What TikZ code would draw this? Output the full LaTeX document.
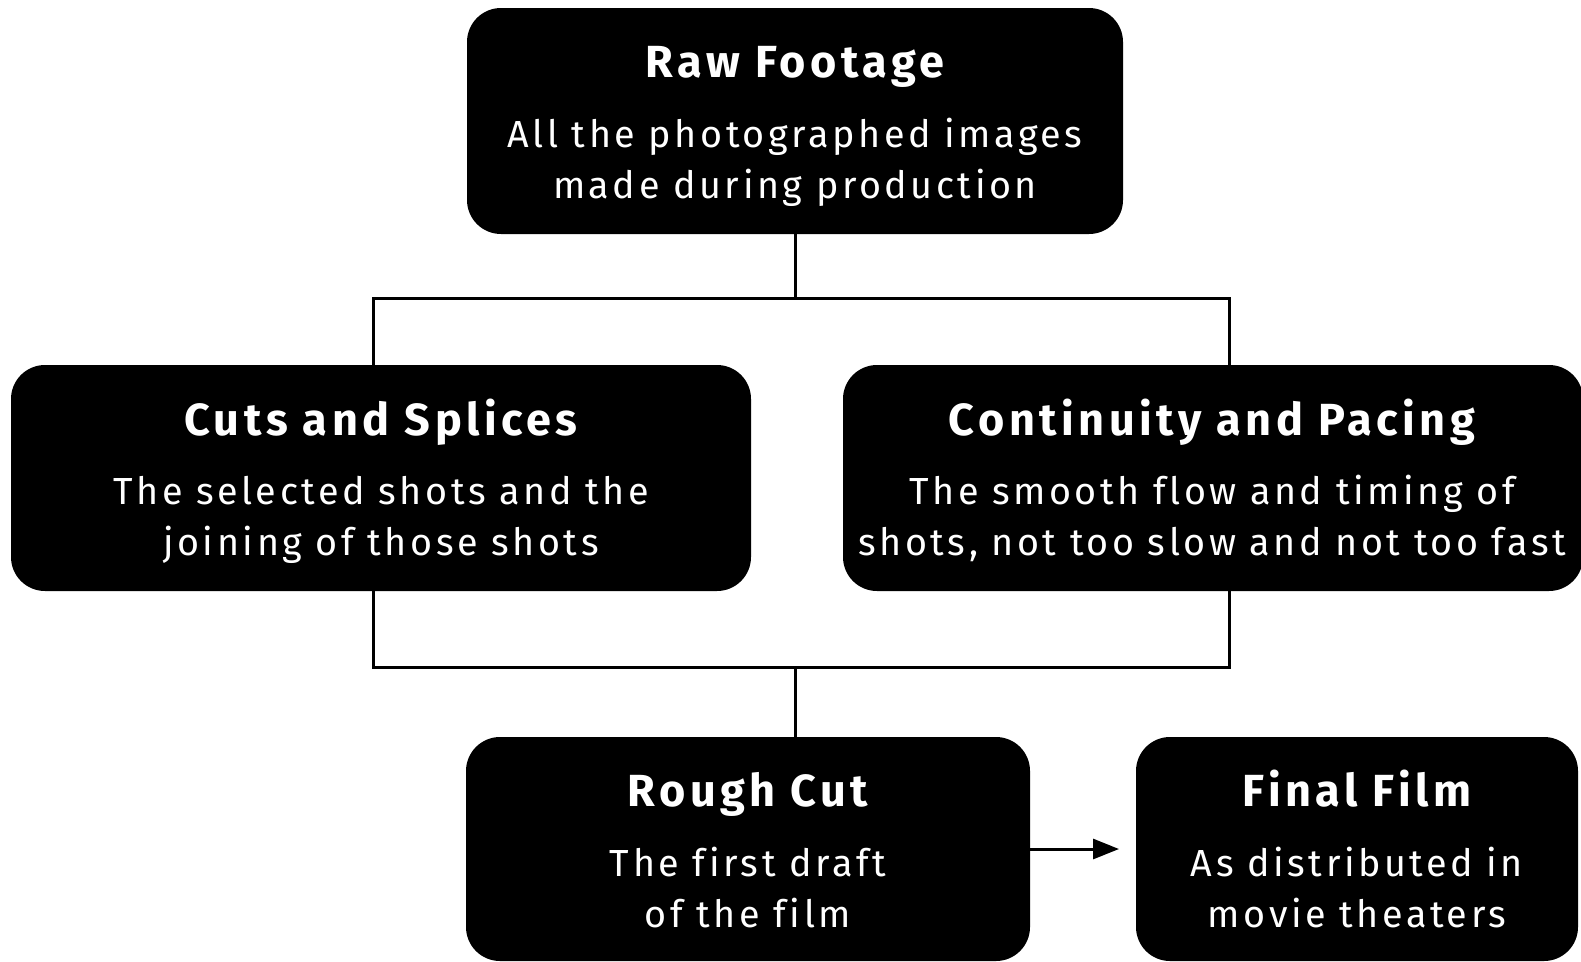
\documentclass[tikz,border=0pt]{standalone}
\usepackage{fontspec}
\setmainfont{Fira Sans}[LetterSpace=9.5,Ligatures=NoCommon]
\newfontfamily\ttlfont{Fira Sans}[LetterSpace=10,Ligatures=NoCommon]
\usetikzlibrary{arrows.meta}
\begin{document}
\begin{tikzpicture}[x=1pt,y=-1pt,
  box/.style={fill=black, rounded corners=34pt, inner sep=0pt, draw=none, minimum height=226pt},
  ttl/.style={text=white, anchor=base, inner sep=0pt, font=\fontsize{45}{51}\ttlfont\bfseries},
  body/.style={text=white, anchor=base, inner sep=0pt, font=\fontsize{37.7}{51}\selectfont},
  conn/.style={line width=3pt, line join=miter}]
\useasboundingbox (0,0) rectangle (1581,961);

% boxes
\node[box, minimum width=656pt] (raw) at (795,121) {};
\node[box, minimum width=740pt] (cuts) at (381,478) {};
\node[box, minimum width=740pt] (cont) at (1213,478) {};
\node[box, minimum width=564pt, minimum height=224pt] (rough) at (748,849) {};
\node[box, minimum width=442pt, minimum height=224pt] (final) at (1357,849) {};

% texts
\node[ttl] (rawt) at (795,77) {Raw Footage};
\node[body] (rawa) at (795,147) {All the photographed images};
\node[body] (rawb) at (795,198) {made during production};

\node[ttl] (cutst) at (381,435) {Cuts and Splices};
\node[body] (cutsa) at (381,504) {The selected shots and the};
\node[body] (cutsb) at (381,555) {joining of those shots};

\node[ttl] (contt) at (1212,435) {Continuity and Pacing};
\node[body] (conta) at (1212,504) {The smooth flow and timing of};
\node[body] (contb) at (1212,555) {shots, not too slow and not too fast};

\node[ttl] (rought) at (748,806) {Rough Cut};
\node[body] (rougha) at (748,876) {The first draft};
\node[body] (roughb) at (748,927) {of the film};

\node[ttl] (finalt) at (1357,806) {Final Film};
\node[body] (finala) at (1357,876) {As distributed in};
\node[body] (finalb) at (1357,927) {movie theaters};

% connectors
\coordinate (jl) at (373,298);
\coordinate (jr) at (1229,298);
\coordinate (kl) at (373,667);
\coordinate (kr) at (1229,667);
\coordinate (ae) at (1119,849);

\draw[conn] (raw.south) -- (raw.south |- jl);
\draw[conn] (jl |- cuts.north) -- (jl) -- (jr) -- (jr |- cont.north);
\draw[conn] (kl |- cuts.south) -- (kl) -- (kr) -- (kr |- cont.south);
\draw[conn] (raw.south |- kl) -- (raw.south |- rough.north);
\draw[conn, -{Triangle[length=26pt,width=20pt]}] (rough.east) -- (ae);
\end{tikzpicture}
\end{document}
